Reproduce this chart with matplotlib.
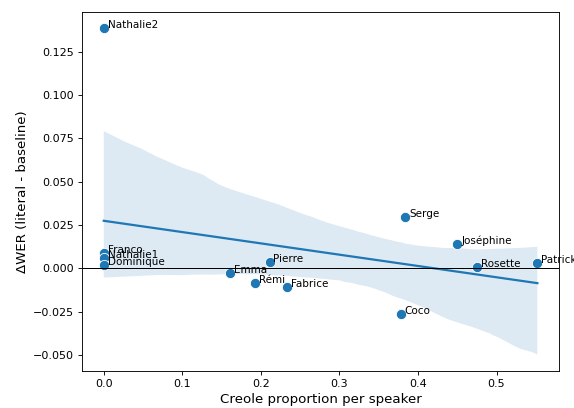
import matplotlib
matplotlib.use("Agg")
import matplotlib.pyplot as plt
import seaborn as sns
import pandas as pd

# Données
speakers = ["Nathalie2", "Franco", "Nathalie1", "Dominique", "Emma", "Pierre",
            "Rémi", "Fabrice", "Serge", "Coco", "Joséphine", "Rosette", "Patrick"]
creole_prop = [0.0, 0.0, 0.0, 0.0, 0.161, 0.211, 0.193, 0.233, 0.384, 0.378,
               0.450, 0.475, 0.552]
delta_wer = [0.1385, 0.009, 0.0063, 0.0021, -0.0027, 0.0036, -0.0085, -0.0105,
             0.0297, -0.026, 0.0142, 0.001, 0.003]

df = pd.DataFrame({"speaker": speakers, "creole": creole_prop, "dwer": delta_wer})

fig = plt.figure(figsize=(574 / 80, 408 / 80), dpi=80)
ax = fig.add_subplot(111)
fig.subplots_adjust(left=0.143, right=0.974, bottom=0.091, top=0.971)

sns.regplot(data=df, x="creole", y="dwer", scatter=False, ci=95, seed=3,
            line_kws={"linewidth": 2}, ax=ax)
sns.scatterplot(data=df, x="creole", y="dwer", s=85, ax=ax)

for _, row in df.iterrows():
    ax.text(row["creole"] + 0.005, row["dwer"], row["speaker"], fontsize=9.3)

ax.axhline(0, color="black", linewidth=0.9)
ax.set_xlabel("Creole proportion per speaker", fontsize=12)
ax.set_ylabel("ΔWER (literal - baseline)", fontsize=12)

fig.savefig("out.png", dpi=80)
